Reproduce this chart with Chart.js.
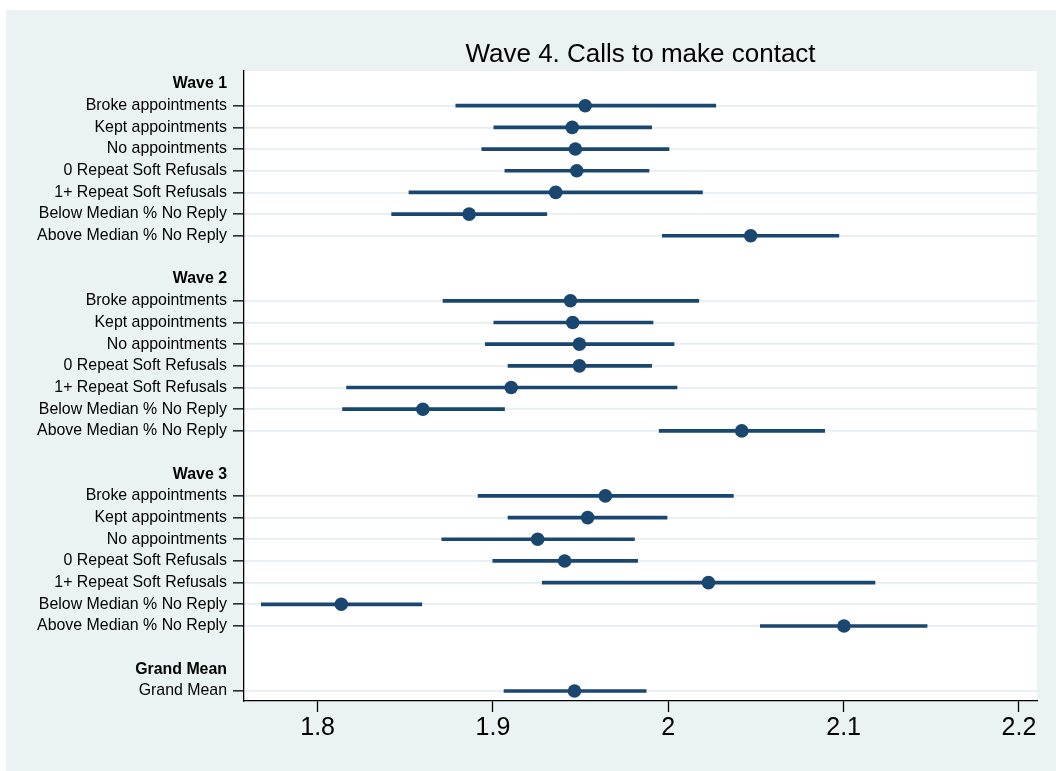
<!DOCTYPE html>
<html lang="en">
<head>
    <meta charset="UTF-8">
    <title>Wave 4. Calls to make contact</title>
    <script src="https://cdn.jsdelivr.net/npm/chart.js"></script>
    <style>
        body { margin: 0; padding: 0; background: #fff; }
        canvas { display: block; }
    </style>
</head>
<body>
    <canvas id="dotChart" width="1056" height="771"></canvas>

    <script>
        // one entry per row, top to bottom ('' = spacer row)
        const rowLabels = [
            'Wave 1', 'Broke appointments', 'Kept appointments', 'No appointments', '0 Repeat Soft Refusals',
            '1+ Repeat Soft Refusals', 'Below Median % No Reply', 'Above Median % No Reply', '',
            'Wave 2', 'Broke appointments', 'Kept appointments', 'No appointments', '0 Repeat Soft Refusals',
            '1+ Repeat Soft Refusals', 'Below Median % No Reply', 'Above Median % No Reply', '',
            'Wave 3', 'Broke appointments', 'Kept appointments', 'No appointments', '0 Repeat Soft Refusals',
            '1+ Repeat Soft Refusals', 'Below Median % No Reply', 'Above Median % No Reply', '',
            'Grand Mean', 'Grand Mean'
        ];
        const headerRows = [0, 9, 18, 27];

        const means = [
            null, 1.9526, 1.9452, 1.9470, 1.9478, 1.9358, 1.8864, 2.0470, null,
            null, 1.9442, 1.9455, 1.9493, 1.9493, 1.9104, 1.8600, 2.0419, null,
            null, 1.9641, 1.9540, 1.9255, 1.9409, 2.0229, 1.8135, 2.1002, null,
            null, 1.9465
        ];
        const lower = [
            null, 1.8788, 1.9005, 1.8936, 1.9068, 1.8521, 1.8422, 1.9966, null,
            null, 1.8715, 1.9005, 1.8956, 1.9086, 1.8165, 1.8142, 1.9948, null,
            null, 1.8915, 1.9086, 1.8708, 1.8999, 1.9281, 1.7679, 2.0525, null,
            null, 1.9063
        ];
        const upper = [
            null, 2.0271, 1.9905, 2.0004, 1.9890, 2.0195, 1.9307, 2.0973, null,
            null, 2.0174, 1.9913, 2.0033, 1.9905, 2.0050, 1.9066, 2.0892, null,
            null, 2.0371, 1.9993, 1.9807, 1.9825, 2.1179, 1.8594, 2.1476, null,
            null, 1.9874
        ];

        const xTicks = [1.8, 1.9, 2.0, 2.1, 2.2];
        const xTickLabels = ['1.8', '1.9', '2', '2.1', '2.2'];

        const navy = '#1a476f';
        const font = "'Liberation Sans', Arial, sans-serif";

        const isDataRow = i => means[i] !== null && means[i] !== undefined;

        const dots = [];
        const bars = [];
        rowLabels.forEach((_, i) => {
            if (!isDataRow(i)) return;
            dots.push({ x: means[i], y: i });
            bars.push({ x: [lower[i], upper[i]], y: i });
        });

        // outer panel + white plot region
        const panelBackground = {
            id: 'panelBackground',
            beforeDraw(chart) {
                const { ctx, chartArea: a } = chart;
                ctx.save();
                ctx.fillStyle = '#ffffff';
                ctx.fillRect(0, 0, chart.width, chart.height);
                ctx.fillStyle = '#eaf2f3';
                ctx.fillRect(6, 10, chart.width - 6, chart.height - 10);
                ctx.fillStyle = '#ffffff';
                ctx.fillRect(a.left, a.top, a.right - a.left, a.bottom - a.top);
                ctx.restore();
            }
        };

        new Chart(document.getElementById('dotChart').getContext('2d'), {
            type: 'scatter',
            data: {
                datasets: [
                    {
                        label: 'Mean',
                        data: dots,
                        order: 0,
                        backgroundColor: navy,
                        borderWidth: 0,
                        pointRadius: 6.8
                    },
                    {
                        type: 'bar',
                        label: 'CI',
                        data: bars,
                        order: 1,
                        indexAxis: 'y',
                        backgroundColor: navy,
                        borderWidth: 0,
                        barThickness: 3
                    }
                ]
            },
            options: {
                responsive: false,
                animation: false,
                devicePixelRatio: 1,
                layout: { padding: { left: 0, right: 19, top: 0, bottom: 0 } },
                plugins: {
                    legend: { display: false },
                    tooltip: { enabled: false },
                    title: {
                        display: true,
                        text: 'Wave 4. Calls to make contact',
                        fullSize: false,
                        color: '#000',
                        font: { family: font, size: 26, weight: 'normal' },
                        padding: { top: 39, bottom: 0.8 }
                    }
                },
                scales: {
                    x: {
                        type: 'linear',
                        min: 1.758,
                        max: 2.2103,
                        offset: false,
                        afterBuildTicks: s => { s.ticks = xTicks.map(v => ({ value: v })); },
                        afterFit: s => { s.height = 70; },
                        border: { display: true, color: '#000', width: 1.3 },
                        grid: { drawOnChartArea: false, offset: false, tickLength: 11, tickColor: '#000', tickWidth: 1.3 },
                        ticks: {
                            callback: (v, i) => xTickLabels[i],
                            color: '#000',
                            padding: 1,
                            maxRotation: 0,
                            font: { family: font, size: 25 }
                        }
                    },
                    y: {
                        type: 'linear',
                        reverse: true,
                        min: -0.6,
                        max: 28.46,
                        offset: false,
                        afterBuildTicks: s => { s.ticks = rowLabels.map((_, i) => ({ value: i })); },
                        afterFit: s => { s.width = 244; },
                        border: { display: true, color: '#000', width: 1.3 },
                        grid: {
                            offset: false,
                            lineWidth: 1.7,
                            color: c => (c.tick && isDataRow(c.tick.value)) ? '#e6eef1' : 'rgba(0,0,0,0)',
                            tickColor: c => (c.tick && isDataRow(c.tick.value)) ? '#000' : 'rgba(0,0,0,0)',
                            tickLength: 11,
                            tickWidth: 1.3
                        },
                        ticks: {
                            autoSkip: false,
                            padding: 6,
                            color: '#000',
                            callback: v => rowLabels[v],
                            font: c => ({
                                family: font,
                                size: 15.9,
                                weight: (c.tick && headerRows.includes(c.tick.value)) ? 'bold' : 'normal'
                            })
                        }
                    }
                }
            },
            plugins: [panelBackground]
        });
    </script>
</body>
</html>
